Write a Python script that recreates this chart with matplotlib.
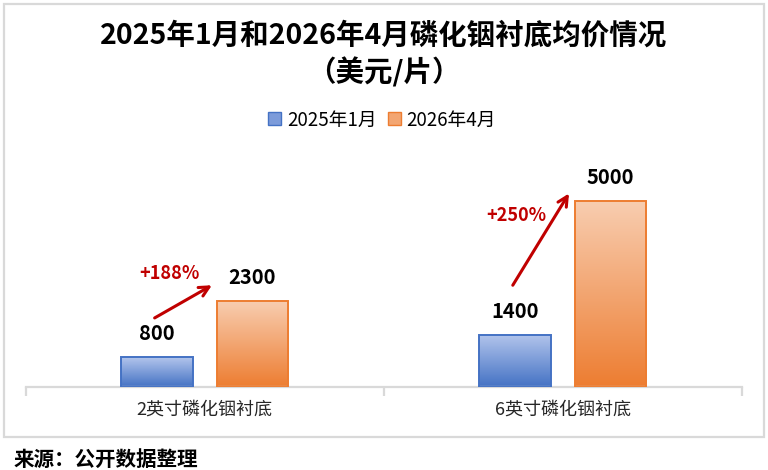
#!/usr/bin/env python3
"""
Average price of InP substrates, Jan 2025 vs Apr 2026 (USD per wafer).
Grouped bars with vertical gradient fill, value labels and growth arrows.
"""

import numpy as np
import matplotlib
matplotlib.use("Agg")
import matplotlib.pyplot as plt
from matplotlib.colors import LinearSegmentedColormap
from matplotlib.patches import Rectangle, Patch

plt.rcParams["font.family"] = ["Noto Sans CJK SC", "DejaVu Sans"]

# ---------------------- data ---------------------- #
categories = ["2英寸磷化铟衬底", "6英寸磷化铟衬底"]
series_names = ["2025年1月", "2026年4月"]
price_2025_01 = [800, 1400]
price_2026_04 = [2300, 5000]
growth_labels = ["+188%", "+250%"]

title_line1 = "2025年1月和2026年4月磷化铟衬底均价情况"
title_line2 = "（美元/片）"
source_text = "来源：公开数据整理"

# ---------------------- style ---------------------- #
BLUE_TOP, BLUE_BOT, BLUE_EDGE = "#B3C5EC", "#4472C4", "#4472C4"
ORANGE_TOP, ORANGE_BOT, ORANGE_EDGE = "#F8CDB0", "#ED7D31", "#ED7D31"
RED = "#C00000"
GRID_GREY = "#D9D9D9"

W, H = 768, 470
fig = plt.figure(figsize=(W / 100, H / 100), dpi=100)

# outer light-grey frame
fig.patches.append(Rectangle((4 / W, (H - 437) / H), 760 / W, 433 / H,
                             transform=fig.transFigure, fill=False,
                             edgecolor=GRID_GREY, linewidth=1.6))

ax = fig.add_axes([25.7 / W, 83.3 / H, 716.3 / W, 223 / H])
ax.set_xlim(-0.5, 1.5)
ax.set_ylim(0, 6000)
ax.set_facecolor("none")


def gradient_bar(ax, x, height, width, top, bottom, edge):
    cmap = LinearSegmentedColormap.from_list("g", [bottom, top])
    grad = np.linspace(0, 1, 256).reshape(-1, 1)
    rect = ax.bar(x, height, width, color="none", edgecolor=edge,
                  linewidth=1.4, zorder=3)[0]
    img = ax.imshow(grad, extent=[x - width / 2, x + width / 2, 0, height],
                    origin="lower", aspect="auto", cmap=cmap, zorder=2)
    img.set_clip_path(rect)
    return rect


xs = np.arange(len(categories))
offset, width = 0.133, 0.2
for i in range(len(categories)):
    gradient_bar(ax, xs[i] - offset, price_2025_01[i], width,
                 BLUE_TOP, BLUE_BOT, BLUE_EDGE)
    gradient_bar(ax, xs[i] + offset, price_2026_04[i], width,
                 ORANGE_TOP, ORANGE_BOT, ORANGE_EDGE)

# value labels
for i in range(len(categories)):
    for dx, v in ((-offset, price_2025_01[i]), (offset, price_2026_04[i])):
        ax.annotate(f"{v}", (xs[i] + dx, v), xytext=(0, 17), textcoords="offset points",
                    ha="center", va="center", fontsize=14.5, fontweight="bold",
                    color="black", zorder=5)

# growth arrows: from above the old bar's label to just beside the new bar's label
arrow_start_pad = [1050, 1330]
arrow_end_pad = [430, 200]
arrow_end_dx = [0.02, 0.017]
for i in range(len(categories)):
    x0 = xs[i] - offset - 0.007
    y0 = price_2025_01[i] + arrow_start_pad[i]
    x1 = xs[i] + arrow_end_dx[i]
    y1 = price_2026_04[i] + arrow_end_pad[i]
    ax.annotate("", xy=(x1, y1), xytext=(x0, y0),
                arrowprops=dict(arrowstyle="->,head_length=0.7,head_width=0.35",
                                color=RED, lw=2.2, shrinkA=0, shrinkB=0),
                zorder=5, annotation_clip=False)

growth_text_pos = [(-0.098, 3057), (0.871, 4613)]
for i, lab in enumerate(growth_labels):
    ax.text(growth_text_pos[i][0], growth_text_pos[i][1], lab, ha="center", va="center",
            fontsize=13, fontweight="bold", color=RED, zorder=5)

# axes styling
for s in ("top", "right", "left"):
    ax.spines[s].set_visible(False)
ax.spines["bottom"].set_color(GRID_GREY)
ax.spines["bottom"].set_linewidth(1.6)
ax.set_yticks([])
ax.set_xticks([-0.5, 0.5, 1.5])
ax.set_xticklabels([])
ax.tick_params(axis="x", which="major", length=6.5, width=1.6, color=GRID_GREY)
ax.set_xticks(xs, minor=True)
ax.set_xticklabels(categories, minor=True, fontsize=13, color="#262626")
ax.tick_params(axis="x", which="minor", length=0, pad=10)

# title
fig.text(0.5, 1 - 36 / H, title_line1, ha="center", va="center",
         fontsize=20.5, fontweight="bold", color="black")
fig.text(0.5, 1 - 72 / H, title_line2, ha="center", va="center",
         fontsize=20.5, fontweight="bold", color="black")

# legend
handles = [Patch(facecolor="#7C9BDA", edgecolor=BLUE_EDGE),
           Patch(facecolor="#F3A672", edgecolor=ORANGE_EDGE)]
fig.legend(handles, series_names, loc="center", bbox_to_anchor=(382 / W, 1 - 120 / H),
           ncol=2, frameon=False, fontsize=13.5, handlelength=0.7, handleheight=0.7,
           handletextpad=0.3, columnspacing=0.6)

# source note
fig.text(14 / W, 1 - 459 / H, source_text, ha="left", va="center",
         fontsize=14.8, fontweight="bold", color="black")

fig.savefig("out.png", dpi=100)
